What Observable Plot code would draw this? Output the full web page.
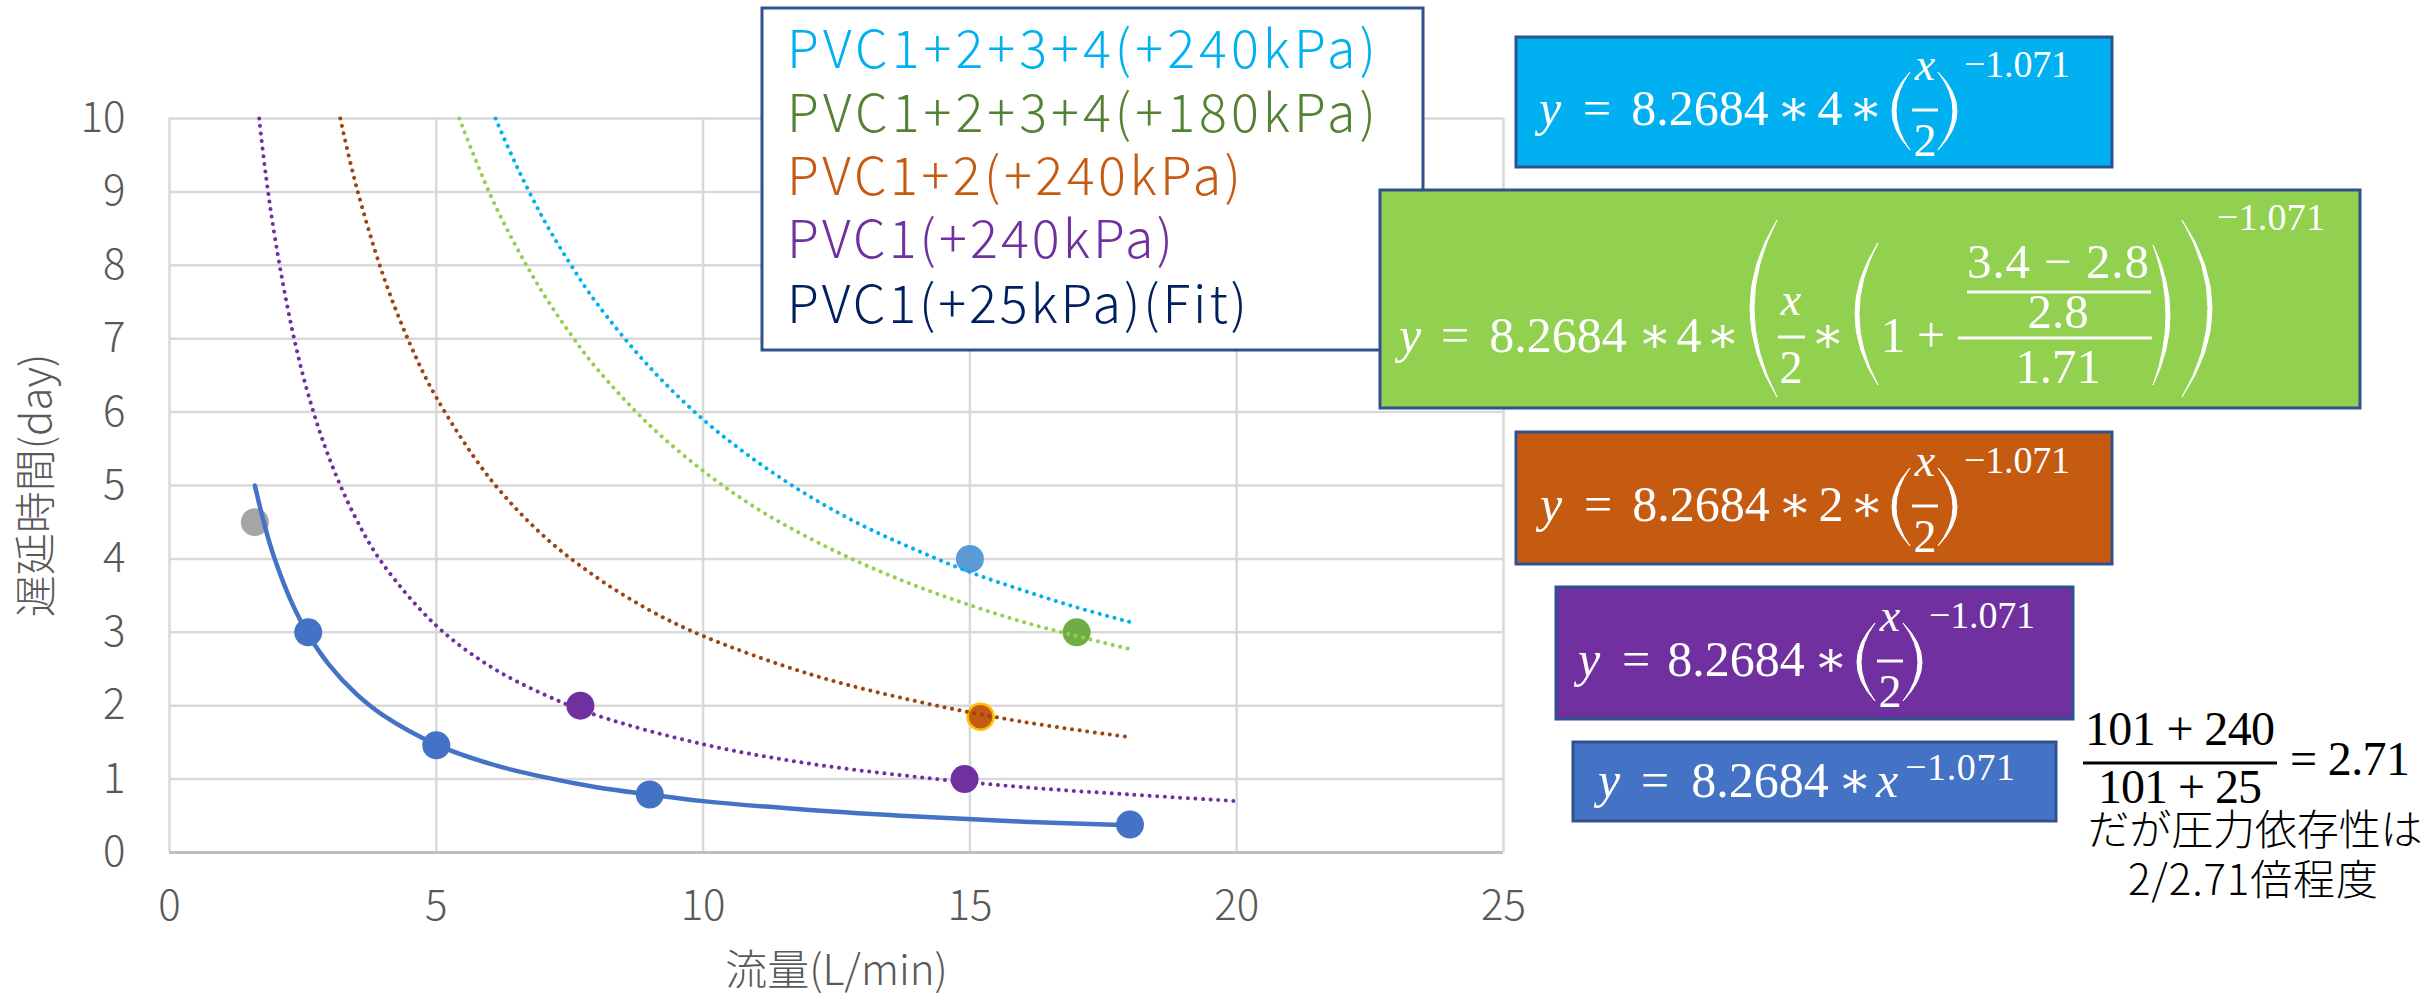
<!DOCTYPE html>
<html><head><meta charset="utf-8">
<script src="https://cdn.jsdelivr.net/npm/d3@7"></script>
<script src="https://cdn.jsdelivr.net/npm/@observablehq/plot@0.6"></script>
<style>
html,body{margin:0;padding:0;background:#fff;}
#chart{width:2433px;height:999px;}
</style></head><body><div id="chart"></div>
<script>
// ---------- data ----------
const xTicks = [0, 5, 10, 15, 20, 25];
const yTicks = [0, 1, 2, 3, 4, 5, 6, 7, 8, 9, 10];
const xLabel = "流量(L/min)";
const yLabel = "遅延時間(day)";

const seriesNames = ["PVC1+2+3+4(+240kPa)", "PVC1+2+3+4(+180kPa)", "PVC1+2(+240kPa)", "PVC1(+240kPa)", "PVC1(+25kPa)(Fit)"];

// measured points
const pvc1_25X = [2.6, 5, 9, 18];
const pvc1_25Y = [3.0, 1.46, 0.79, 0.38];
const outlierX = [1.6];
const outlierY = [4.5];
const pvc1_240X = [7.7, 14.9];
const pvc1_240Y = [2.0, 1.0];
const pvc12_240X = [15.2];
const pvc12_240Y = [1.85];
const pvc1234_180X = [17];
const pvc1234_180Y = [3.0];
const pvc1234_240X = [15];
const pvc1234_240Y = [4.0];

// trend curves
const fitX = [1.6, 1.8, 2.0, 2.3, 2.6, 3.0, 3.5, 4, 5, 6, 7, 8, 9, 10, 12, 14, 16, 18];
const fitY = [5.0, 4.41, 3.94, 3.39, 2.97, 2.55, 2.16, 1.87, 1.47, 1.21, 1.03, 0.89, 0.79, 0.70, 0.58, 0.49, 0.42, 0.37];
const trend1X = [1.68, 1.8, 2.0, 2.3, 2.6, 3.0, 3.5, 4, 5, 6, 7, 8, 10, 12, 14, 16, 18, 20];
const trend1Y = [10.0, 9.26, 8.27, 7.12, 6.24, 5.36, 4.54, 3.93, 3.09, 2.54, 2.16, 1.87, 1.475, 1.21, 1.03, 0.89, 0.79, 0.70];
const trend12X = [3.2, 3.5, 4, 4.5, 5, 6, 7, 8, 9, 10, 12, 14, 16, 18];
const trend12Y = [10.0, 9.08, 7.87, 6.94, 6.20, 5.10, 4.32, 3.75, 3.30, 2.95, 2.43, 2.06, 1.78, 1.57];
const trend180X = [5.43, 6, 6.5, 7, 7.5, 8, 9, 10, 11, 12, 13, 14, 15, 16, 17, 18];
const trend180Y = [10.0, 8.98, 8.25, 7.62, 7.08, 6.60, 5.82, 5.20, 4.69, 4.28, 3.93, 3.63, 3.37, 3.14, 2.95, 2.77];
const trend240X = [6.11, 6.5, 7, 7.5, 8, 9, 10, 11, 12, 13, 14, 15, 16, 17, 18];
const trend240Y = [10.0, 9.36, 8.64, 8.03, 7.49, 6.61, 5.90, 5.33, 4.85, 4.45, 4.12, 3.82, 3.57, 3.34, 3.14];

// ---------- styles ----------
const legendColors = ["#00B0F0", "#548235", "#C55A11", "#7030A0", "#002060"];
const legendWidths = [589, 589, 454, 386, 460];
const SANS = "'Noto Sans CJK JP','Noto Sans',sans-serif";
const MF = "'Liberation Serif','DejaVu Serif',serif";

const tbl = (xs, ys) => xs.map((x, i) => ({x, y: ys[i]}));
const dotted = {strokeWidth: 4, strokeDasharray: "0.01 7.6", strokeLinecap: "round", curve: "catmull-rom"};

const plot = Plot.plot({
  width: 2433, height: 999,
  marginLeft: 169, marginRight: 930, marginTop: 118, marginBottom: 147,
  style: {fontFamily: SANS, color: "#595959", background: "#ffffff", fontWeight: 300},
  x: {domain: [0, 25]},
  y: {domain: [0, 10]},
  marks: [
    Plot.gridY(yTicks, {stroke: "#d9d9d9", strokeOpacity: 1, strokeWidth: 2.5}),
    Plot.gridX(xTicks, {stroke: "#d9d9d9", strokeOpacity: 1, strokeWidth: 2.5}),
    Plot.ruleY([0], {stroke: "#bfbfbf", strokeWidth: 3}),
    Plot.axisX(xTicks, {tickSize: 0, tickPadding: 38, fontSize: 42, tickFormat: d3.format("d"), label: xLabel, labelAnchor: "center", labelOffset: 132, labelArrow: "none"}),
    Plot.axisY(yTicks, {tickSize: 0, tickPadding: 44, fontSize: 42, tickFormat: d3.format("d"), label: yLabel, labelAnchor: "center", labelOffset: 148, labelArrow: "none"}),
    Plot.dot(tbl(outlierX, outlierY), {x: "x", y: "y", r: 14, fill: "#A5A5A5"}),
    Plot.dot(tbl(pvc1_25X, pvc1_25Y), {x: "x", y: "y", r: 14, fill: "#4472C4"}),
    Plot.dot(tbl(pvc1_240X, pvc1_240Y), {x: "x", y: "y", r: 14, fill: "#7030A0"}),
    Plot.dot(tbl(pvc12_240X, pvc12_240Y), {x: "x", y: "y", r: 13, fill: "#C55A11", stroke: "#FFC000", strokeWidth: 2.5}),
    Plot.dot(tbl(pvc1234_180X, pvc1234_180Y), {x: "x", y: "y", r: 14, fill: "#70AD47"}),
    Plot.dot(tbl(pvc1234_240X, pvc1234_240Y), {x: "x", y: "y", r: 14, fill: "#5B9BD5"}),
    Plot.line(tbl(trend1X, trend1Y), {x: "x", y: "y", stroke: "#7030A0", ...dotted}),
    Plot.line(tbl(trend12X, trend12Y), {x: "x", y: "y", stroke: "#9C4510", ...dotted}),
    Plot.line(tbl(trend180X, trend180Y), {x: "x", y: "y", stroke: "#92D050", ...dotted}),
    Plot.line(tbl(trend240X, trend240Y), {x: "x", y: "y", stroke: "#00B0F0", ...dotted}),
    Plot.line(tbl(fitX, fitY), {x: "x", y: "y", stroke: "#4472C4", strokeWidth: 4.5, curve: "catmull-rom"})
  ]
});
document.getElementById("chart").appendChild(plot);

// ---------- annotations (legend box, equation boxes) ----------
const svg = d3.select(plot);
const g = svg.append("g");

function T(x, y, s, o = {}) {
  const t = g.append("text").attr("x", x).attr("y", y).text(s)
    .attr("font-family", o.ff || MF).attr("font-size", o.fs || 50)
    .attr("font-style", o.it ? "italic" : "normal")
    .attr("font-weight", o.fw || 400)
    .attr("text-anchor", o.a || "middle")
    .attr("fill", o.fill || "#ffffff");
  if (o.tl) t.attr("textLength", o.tl).attr("lengthAdjust", "spacing");
  return t;
}
function box(x, y, w, h, fill) {
  g.append("rect").attr("x", x).attr("y", y).attr("width", w).attr("height", h)
    .attr("fill", fill).attr("stroke", "#2F528F").attr("stroke-width", 3);
}
function bar(x0, x1, y, fill = "#ffffff") {
  g.append("rect").attr("x", x0).attr("y", y - 1.5).attr("width", x1 - x0).attr("height", 3).attr("fill", fill);
}
// crescent-shaped bracket: xe = tips x, xb = bulge x
function paren(xe, xb, top, bot) {
  const mid = (top + bot) / 2;
  const th = xb < xe ? 4 : -4;
  const c1 = 2 * xb - xe, c2 = 2 * (xb + th) - xe;
  g.append("path").attr("d", `M${xe},${top} Q${c1},${mid} ${xe},${bot} Q${c2},${mid} ${xe},${top} Z`)
    .attr("fill", "#ffffff").attr("stroke", "#ffffff").attr("stroke-width", 1);
}
function fracPow(px, base) {
  paren(px + 18, px, base - 53, base + 25);
  T(px + 33, base - 45, "x", {it: true, fs: 46});
  bar(px + 20, px + 46, base - 15);
  T(px + 33, base + 31, "2", {fs: 46});
  paren(px + 46, px + 65, base - 53, base + 25);
  T(px + 72, base - 48, "−1.071", {fs: 38, a: "start", tl: 106});
}
// parts: [text, center dx from first glyph center, italic]
function prefix(cx, base, parts) {
  parts.forEach(([s, dx, it]) => T(cx + dx, base, s, {it}));
}

// legend box
box(762, 8, 661, 342, "#ffffff");
const legendBaselines = [68, 132, 195, 258, 323];
seriesNames.forEach((s, i) => T(787, legendBaselines[i], s, {ff: SANS, fs: 52, fw: 300, a: "start", fill: legendColors[i], tl: legendWidths[i]}));

// cyan box
box(1516, 37, 596, 130, "#00B0F0");
prefix(1550, 125, [["y", 0, true], ["=", 47], ["8.2684", 150], ["∗", 244], ["4", 280], ["∗", 316]]);
fracPow(1892, 125);

// green box
box(1380, 190, 980, 218, "#92D050");
prefix(1410, 352, [["y", 0, true], ["=", 45], ["8.2684", 148], ["∗", 245], ["4", 279], ["∗", 313]]);
paren(1777, 1750, 220, 397);
T(1791, 315, "x", {it: true, fs: 46});
bar(1778, 1805, 337);
T(1791, 383, "2", {fs: 46});
T(1828, 352, "∗");
paren(1878, 1855, 243, 385);
T(1893, 352, "1");
T(1931, 352, "+");
bar(1958, 2152, 338);
T(2058, 278, "3.4 − 2.8", {fs: 49, tl: 182});
bar(1967, 2151, 292);
T(2058, 328, "2.8", {fs: 49});
T(2058, 383, "1.71", {fs: 49});
paren(2153, 2170, 245, 385);
paren(2182, 2212, 220, 397);
T(2217, 230, "−1.071", {fs: 38, a: "start", tl: 108});

// orange box
box(1516, 432, 596, 132, "#C55A11");
prefix(1551, 521, [["y", 0, true], ["=", 47], ["8.2684", 150], ["∗", 244], ["2", 280], ["∗", 316]]);
fracPow(1892, 521);

// purple box
box(1556, 587, 517, 132, "#7030A0");
prefix(1589, 676, [["y", 0, true], ["=", 47], ["8.2684", 147], ["∗", 242]]);
fracPow(1857, 676);

// blue box
box(1573, 742, 483, 79, "#4472C4");
prefix(1609, 797, [["y", 0, true], ["=", 46], ["8.2684", 151], ["∗", 246], ["x", 278, true]]);
T(1905, 780, "−1.071", {fs: 38, a: "start", tl: 110});

// right-hand note
T(2180, 745, "101 + 240", {fs: 48, fill: "#000000", tl: 190});
bar(2083, 2277, 763, "#000000");
T(2180, 803, "101 + 25", {fs: 48, fill: "#000000", tl: 164});
T(2290, 775, "= 2.71", {fs: 48, a: "start", fill: "#000000", tl: 120});
T(2255, 845, "だが圧力依存性は", {ff: SANS, fs: 42, fw: 300, fill: "#000000", tl: 335});
T(2253, 895, "2/2.71倍程度", {ff: SANS, fs: 42, fw: 300, fill: "#000000", tl: 250});
</script></body></html>
